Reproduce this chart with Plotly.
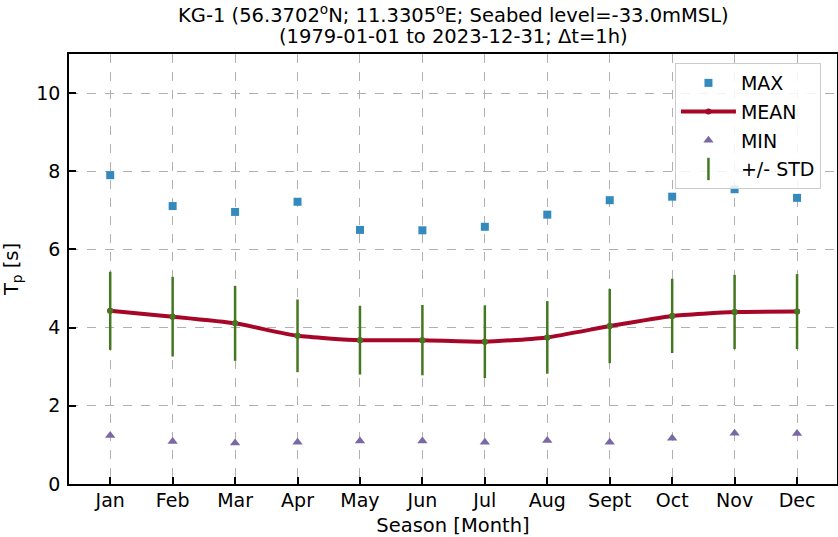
import plotly.graph_objects as go

months = ["Jan", "Feb", "Mar", "Apr", "May", "Jun", "Jul", "Aug", "Sept", "Oct", "Nov", "Dec"]
tp_max = [7.90, 7.11, 6.96, 7.22, 6.50, 6.49, 6.58, 6.89, 7.26, 7.35, 7.54, 7.32]
tp_mean = [4.43, 4.28, 4.11, 3.79, 3.68, 3.68, 3.64, 3.75, 4.04, 4.30, 4.40, 4.41]
tp_min = [1.24, 1.09, 1.05, 1.07, 1.10, 1.10, 1.07, 1.11, 1.07, 1.17, 1.30, 1.29]
tp_std = [1.00, 1.02, 0.96, 0.93, 0.88, 0.90, 0.93, 0.93, 0.95, 0.95, 0.95, 0.96]

title_line1 = "KG-1 (56.3702<sup>o</sup>N; 11.3305<sup>o</sup>E; Seabed level=-33.0mMSL)"
title_line2 = "(1979-01-01 to 2023-12-31; Δt=1h)"

x = list(range(len(months)))

C_MAX = "#348ABD"
C_MEAN = "#A60628"
C_MIN = "#7A68A6"
C_STD = "#467821"
FONT = "DejaVu Sans"

fig = go.Figure()

fig.add_trace(go.Scatter(
    x=x, y=tp_max, mode="markers", name="MAX", legendgroup="a",
    marker=dict(symbol="square", size=8, color=C_MAX),
))
fig.add_trace(go.Scatter(
    x=x, y=tp_mean, mode="lines+markers", name="MEAN", legendgroup="b",
    line=dict(color=C_MEAN, width=4, shape="spline", smoothing=0.5),
    marker=dict(symbol="circle", size=6, color=C_MEAN),
))
fig.add_trace(go.Scatter(
    x=x, y=tp_min, mode="markers", name="MIN", legendgroup="c",
    marker=dict(symbol="triangle-up", size=9, color=C_MIN),
))
# error bars (drawn, no legend)
fig.add_trace(go.Scatter(
    x=x, y=tp_mean, mode="markers", name="+/- STD", showlegend=False, legendgroup="d",
    marker=dict(symbol="circle", size=6, color=C_STD),
    error_y=dict(type="data", array=tp_std, visible=True, color=C_STD, thickness=2.5, width=0),
))
# legend-only entry for STD
fig.add_trace(go.Scatter(
    x=[None], y=[None], mode="markers", name="+/- STD", legendgroup="d",
    marker=dict(symbol="line-ns-open", size=16, color=C_STD, line=dict(color=C_STD, width=2.5)),
))

axis_common = dict(
    showline=True, linecolor="black", linewidth=1.5, mirror=True,
    ticks="inside", ticklen=7, tickwidth=1.5, tickcolor="black",
    showgrid=True, gridcolor="#b0b0b0", griddash="dash", gridwidth=1.3,
    zeroline=False, automargin=False,
    tickfont=dict(family=FONT, size=19, color="black"),
)

fig.update_xaxes(
    **axis_common,
    range=[-0.66, 11.64],
    tickmode="array", tickvals=x, ticktext=months,
    title=dict(text="Season [Month]", font=dict(family=FONT, size=19.5, color="black"), standoff=12),
    ticklabelstandoff=-2,
)
fig.update_yaxes(
    **axis_common,
    range=[0, 11],
    tickmode="array", tickvals=[0, 2, 4, 6, 8, 10],
    title=dict(text="T<sub>p</sub> [s]", font=dict(family=FONT, size=19.5, color="black"), standoff=13),
    ticklabelstandoff=3,
)

for txt, shift in ((title_line1, 40), (title_line2, 18)):
    fig.add_annotation(
        text=txt,
        xref="paper", yref="paper", x=0.5, y=1, xanchor="center", yanchor="middle",
        yshift=shift, showarrow=False, align="center",
        font=dict(family=FONT, size=19.5, color="black"),
    )

fig.update_layout(
    width=838, height=537,
    margin=dict(l=69, r=1, t=54, b=53),
    paper_bgcolor="white", plot_bgcolor="white",
    font=dict(family=FONT, color="black"),
    legend=dict(
        x=0.789, y=0.979, xanchor="left", yanchor="top",
        bgcolor="rgba(255,255,255,0.85)", bordercolor="#cccccc", borderwidth=1,
        font=dict(family=FONT, size=19, color="black"),
        tracegroupgap=1, itemwidth=55,
    ),
    showlegend=True,
)

fig.write_html(
    "out.html",
    config={"displayModeBar": False},
    post_script="document.body.style.margin='0px';",
)
